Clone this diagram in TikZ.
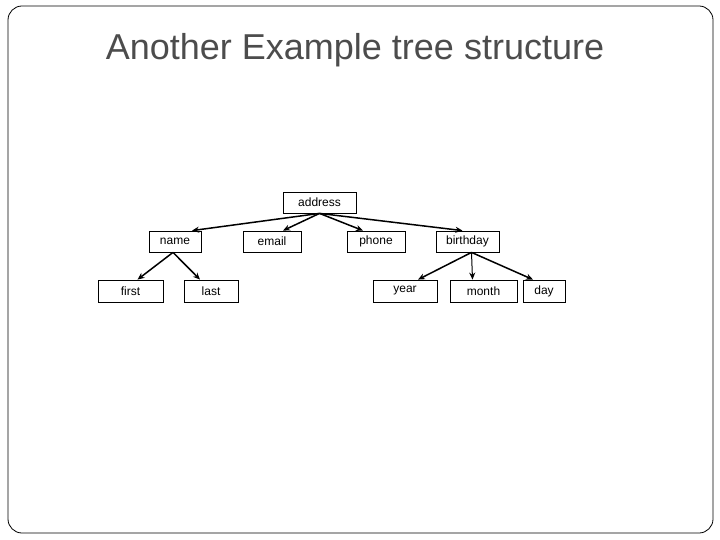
\documentclass[tikz,border=0pt]{standalone}
\usepackage{fontspec}
\setmainfont{Liberation Sans}
\usetikzlibrary{arrows.meta}
\begin{document}
\begin{tikzpicture}[x=1pt,y=-1pt,
  box/.style={draw,line width=0.8pt,inner sep=0pt,font=\fontsize{12}{14}\selectfont},
  arr/.style={-{Stealth[length=7pt,width=6pt]},line width=1.5pt}]
\useasboundingbox (0,0) rectangle (720,540);
\draw[rounded corners=14pt,line width=0.8pt] (8,6) rectangle (713,533);
\node[font=\fontsize{36}{40}\selectfont,text=black!70] (title) at (355,50) {Another Example tree structure};
\newcommand\bx[6]{\node[box,minimum width=#3-#2,minimum height=#5-#4] (#1) at ({(#2+#3)/2},{(#4+#5)/2}) {#6};}
\bx{address}{283}{356}{192}{213}{address}
\bx{name}{149}{201}{231}{252}{name}
\bx{email}{243}{301}{231}{252}{email}
\bx{phone}{347}{405}{231}{252}{phone}
\bx{birthday}{436}{499}{231}{252}{birthday}
\bx{first}{98}{163}{280}{302}{first}
\bx{last}{184}{238}{280}{302}{last}
\bx{year}{373}{437}{280}{302}{year}
\bx{month}{450}{517}{280}{302}{month}
\bx{day}{523}{565}{280}{302}{day}
\draw[arr] (address.south) -- ([xshift=17]name.north);
\draw[arr] (address.south) -- ([xshift=11]email.north);
\draw[arr] (address.south) -- ([xshift=-13]phone.north);
\draw[arr] (address.south) -- ([xshift=-5]birthday.north);
\draw[arr] ([xshift=-2]name.south) -- ([xshift=7]first.north);
\draw[arr] ([xshift=-2]name.south) -- ([xshift=-11]last.north);
\draw[arr] ([xshift=4]birthday.south) -- ([xshift=13]year.north);
\draw[arr,line width=1pt] ([xshift=4]birthday.south) -- ([xshift=-11]month.north);
\draw[arr] ([xshift=4]birthday.south) -- ([xshift=-11]day.north);
\end{tikzpicture}
\end{document}
